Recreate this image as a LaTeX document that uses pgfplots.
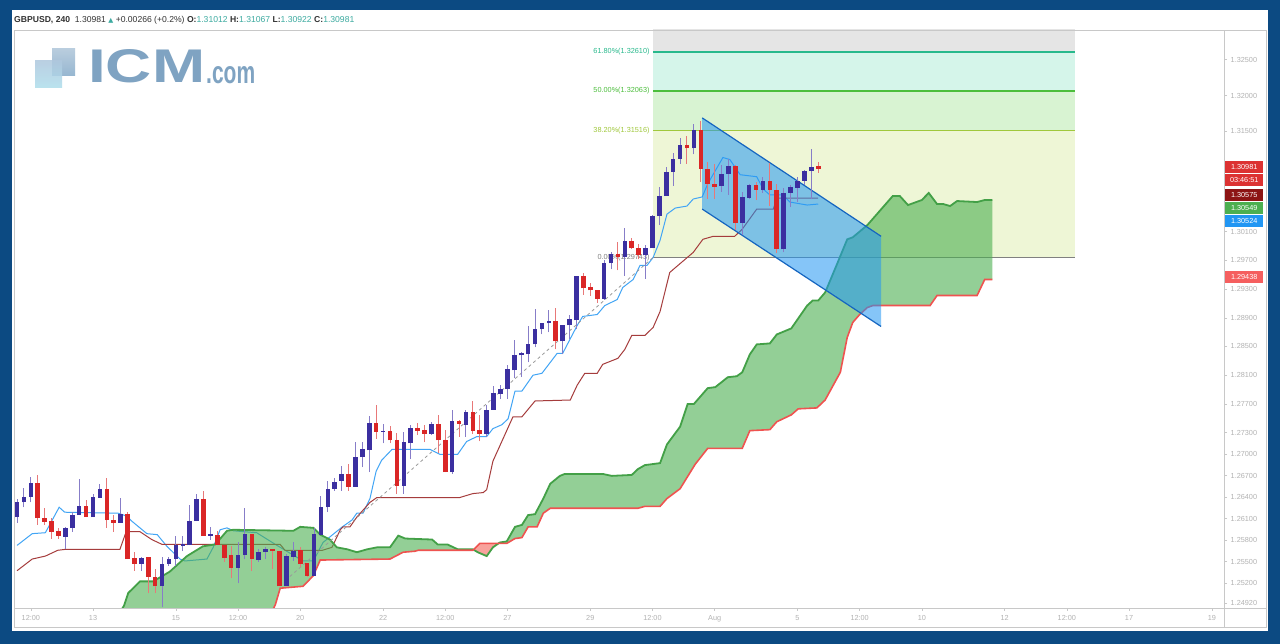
\documentclass[border=0pt]{standalone}
\usepackage{pgfplots}
\pgfplotsset{compat=1.18}
\usepackage{pgfplotstable}
\usepackage{graphicx}
\usepackage{fontspec}
\setmainfont{Liberation Sans}
\newfontfamily\dejavu{DejaVu Sans}

\definecolor{tvblue}{RGB}{12,74,130}
\definecolor{upbody}{RGB}{59,47,160}
\definecolor{upwick}{RGB}{135,125,200}
\definecolor{dnbody}{RGB}{218,38,38}
\definecolor{dnwick}{RGB}{232,120,120}
\definecolor{tenkan}{RGB}{66,165,245}
\definecolor{kijun}{RGB}{165,60,60}
\definecolor{spanA}{RGB}{67,160,71}
\definecolor{spanB}{RGB}{239,83,80}
\definecolor{cloudG}{RGB}{76,175,80}
\definecolor{cloudR}{RGB}{248,162,156}
\definecolor{chan}{RGB}{33,150,243}
\definecolor{chanline}{RGB}{21,101,192}
\definecolor{fibA}{RGB}{238,246,214}
\definecolor{fibB}{RGB}{216,243,210}
\definecolor{fibC}{RGB}{213,245,234}
\definecolor{fibD}{RGB}{229,229,229}
\definecolor{fibL382}{RGB}{160,200,60}
\definecolor{fibL50}{RGB}{76,190,60}
\definecolor{fibL618}{RGB}{40,185,140}
\definecolor{fibL0}{RGB}{128,128,128}
\definecolor{ticktxt}{RGB}{178,178,178}
\definecolor{frame}{RGB}{200,200,200}
\definecolor{valtxt}{RGB}{60,170,160}
\definecolor{hdrtxt}{RGB}{50,50,50}
\definecolor{icm}{RGB}{127,163,194}

\pgfplotstableread{
i o h l c
-11 1.26120 1.26379 1.26038 1.26325
-10 1.26325 1.26530 1.26257 1.26407
-9 1.26407 1.26681 1.26325 1.26599
-4 1.25848 1.25984 1.25671 1.25970
-3 1.25970 1.26188 1.25916 1.26148
-2 1.26148 1.26653 1.26148 1.26270
0 1.26120 1.26448 1.26120 1.26407
1 1.26393 1.26585 1.26393 1.26516
4 1.26038 1.26393 1.26038 1.26161
7 1.25467 1.25562 1.25372 1.25549
10 1.25155 1.25562 1.24860 1.25467
11 1.25467 1.25562 1.25440 1.25535
12 1.25535 1.25861 1.25440 1.25725
13 1.25712 1.25861 1.25644 1.25739
14 1.25725 1.26284 1.25725 1.26065
15 1.26065 1.26448 1.26065 1.26366
17 1.25861 1.25984 1.25807 1.25889
21 1.25413 1.25766 1.25196 1.25589
22 1.25589 1.26243 1.25535 1.25889
24 1.25521 1.25671 1.25494 1.25630
25 1.25630 1.25698 1.25535 1.25671
28 1.25155 1.25603 1.25155 1.25576
29 1.25562 1.25766 1.25508 1.25644
32 1.25304 1.25970 1.25304 1.25889
33 1.25875 1.26421 1.25875 1.26257
34 1.26257 1.26626 1.26188 1.26516
35 1.26516 1.26667 1.26489 1.26612
36 1.26626 1.26832 1.26489 1.26722
38 1.26544 1.27161 1.26544 1.26955
39 1.26955 1.27161 1.26818 1.27065
40 1.27051 1.27533 1.26749 1.27436
42 1.27312 1.27422 1.27147 1.27326
45 1.26557 1.27312 1.26448 1.27161
46 1.27147 1.27409 1.26927 1.27367
49 1.27285 1.27450 1.27271 1.27422
52 1.26749 1.27616 1.26722 1.27464
54 1.27409 1.27616 1.27244 1.27588
57 1.27285 1.27685 1.27244 1.27616
58 1.27616 1.27947 1.27616 1.27850
59 1.27836 1.27960 1.27767 1.27905
60 1.27905 1.28237 1.27767 1.28182
61 1.28168 1.28585 1.28057 1.28376
62 1.28376 1.28418 1.28071 1.28404
63 1.28390 1.28779 1.28279 1.28529
64 1.28529 1.29016 1.28487 1.28738
65 1.28738 1.28821 1.28668 1.28821
66 1.28821 1.29002 1.28696 1.28849
68 1.28571 1.28793 1.28390 1.28793
69 1.28793 1.28946 1.28599 1.28877
70 1.28863 1.29490 1.28738 1.29490
74 1.29169 1.29700 1.29155 1.29658
75 1.29658 1.29812 1.29574 1.29784
77 1.29742 1.30150 1.29490 1.29967
80 1.29770 1.29911 1.29448 1.29868
81 1.29868 1.30332 1.29868 1.30318
82 1.30318 1.30726 1.30192 1.30600
83 1.30600 1.31009 1.30600 1.30938
84 1.30938 1.31193 1.30740 1.31122
85 1.31122 1.31406 1.31051 1.31306
87 1.31264 1.31604 1.31179 1.31519
91 1.30740 1.31037 1.30656 1.30910
92 1.30910 1.31122 1.30614 1.31023
94 1.30220 1.30656 1.30051 1.30586
95 1.30571 1.30769 1.30557 1.30755
97 1.30684 1.30868 1.30642 1.30811
100 1.29854 1.30712 1.29812 1.30642
101 1.30642 1.30755 1.30445 1.30726
102 1.30712 1.30868 1.30515 1.30811
103 1.30811 1.30967 1.30755 1.30953
104 1.30953 1.31250 1.30557 1.31009
}\upcandles

\pgfplotstableread{
i o h l c
-8 1.26599 1.26708 1.26011 1.26107
-7 1.26107 1.26243 1.26011 1.26052
-6 1.26065 1.26107 1.25821 1.25916
-5 1.25929 1.25970 1.25821 1.25861
-1 1.26270 1.26352 1.26120 1.26120
2 1.26516 1.26667 1.25970 1.26079
3 1.26079 1.26148 1.25916 1.26038
5 1.26161 1.26188 1.25535 1.25535
6 1.25549 1.25630 1.25372 1.25467
8 1.25562 1.25562 1.25061 1.25291
9 1.25291 1.25399 1.25061 1.25155
16 1.26366 1.26489 1.25861 1.25861
18 1.25875 1.25929 1.25725 1.25725
19 1.25725 1.25725 1.25494 1.25549
20 1.25589 1.25712 1.25264 1.25413
23 1.25889 1.25889 1.25372 1.25535
26 1.25671 1.25671 1.25399 1.25644
27 1.25644 1.25644 1.25155 1.25155
30 1.25657 1.25698 1.25426 1.25467
31 1.25481 1.25481 1.25291 1.25304
37 1.26722 1.26859 1.26489 1.26544
41 1.27436 1.27685 1.27216 1.27312
43 1.27326 1.27395 1.27147 1.27189
44 1.27202 1.27298 1.26448 1.26557
47 1.27367 1.27436 1.27271 1.27326
48 1.27340 1.27409 1.27161 1.27285
50 1.27422 1.27546 1.27010 1.27189
51 1.27202 1.27340 1.26749 1.26749
53 1.27464 1.27478 1.27244 1.27422
55 1.27588 1.27740 1.27285 1.27326
56 1.27340 1.27546 1.27175 1.27285
67 1.28849 1.29043 1.28460 1.28571
71 1.29490 1.29532 1.29225 1.29309
72 1.29323 1.29379 1.29211 1.29281
73 1.29281 1.29281 1.29113 1.29169
76 1.29784 1.29953 1.29560 1.29742
78 1.29967 1.30009 1.29854 1.29868
79 1.29868 1.29925 1.29714 1.29770
86 1.31306 1.31434 1.31051 1.31264
88 1.31519 1.31646 1.30797 1.30981
89 1.30981 1.31080 1.30557 1.30769
90 1.30769 1.31051 1.30557 1.30726
93 1.31023 1.31037 1.30122 1.30220
96 1.30755 1.30797 1.30543 1.30684
98 1.30811 1.31066 1.30459 1.30684
99 1.30684 1.30769 1.29798 1.29854
105 1.31012 1.31067 1.30922 1.30981
}\dncandles

\pgfplotstableread{
i p
-11.0 1.25725
-8.8 1.25889
-6.9 1.25902
-4.9 1.26257
-4.1 1.26188
3.6 1.26175
4.9 1.26134
5.6 1.26065
7.8 1.25889
9.3 1.25875
10.7 1.25712
12.6 1.25535
13.3 1.25508
16.5 1.25535
17.4 1.25698
18.4 1.25943
19.4 1.25970
20.3 1.25929
23.7 1.25902
26.4 1.25739
30.4 1.25508
31.9 1.25508
33.3 1.25766
34.7 1.25875
36.1 1.25984
37.5 1.26079
38.2 1.26175
39.1 1.26175
40.1 1.26379
41.0 1.26763
41.8 1.26914
43.3 1.27065
48.8 1.27065
50.2 1.26996
52.8 1.26996
54.1 1.27175
55.6 1.27244
57.0 1.27244
57.9 1.27354
59.2 1.27409
60.1 1.27491
61.1 1.27878
62.1 1.27878
63.7 1.28099
65.0 1.28126
67.2 1.28404
68.0 1.28404
70.1 1.28793
70.9 1.28919
73.0 1.28946
74.1 1.29071
75.9 1.29155
76.7 1.29323
78.2 1.29434
79.2 1.29630
80.2 1.29630
81.1 1.29742
82.1 1.29981
83.1 1.30346
84.3 1.30431
86.0 1.30459
86.9 1.30557
88.2 1.30586
89.0 1.30769
91.2 1.31136
92.2 1.31108
93.7 1.30896
96.1 1.30868
97.0 1.30698
98.0 1.30614
99.9 1.30614
100.9 1.30515
103.4 1.30473
105.0 1.30487
}\tenkantab

\pgfplotstableread{
i p
-11.0 1.25372
-8.8 1.25535
-6.9 1.25576
-5.1 1.25657
-3.9 1.25671
3.9 1.25671
4.8 1.25916
6.8 1.25916
8.5 1.25807
10.0 1.25739
27.1 1.25739
27.8 1.25657
33.2 1.25657
34.6 1.25698
35.8 1.25943
36.2 1.25984
37.2 1.25984
38.2 1.26120
40.1 1.26325
41.1 1.26393
53.1 1.26393
55.0 1.26448
56.5 1.26462
57.0 1.26503
57.9 1.26900
60.8 1.27519
62.1 1.27519
64.0 1.27740
69.1 1.27753
70.1 1.27960
71.2 1.28126
73.0 1.28126
73.8 1.28251
76.0 1.28335
77.0 1.28460
78.0 1.28654
79.9 1.28654
81.1 1.28766
82.1 1.28988
83.5 1.29532
84.0 1.29574
86.9 1.29812
88.3 1.29995
89.8 1.30037
92.9 1.30037
94.0 1.30136
96.1 1.30417
98.5 1.30417
99.0 1.30571
105.0 1.30571
}\kijuntab

\pgfplotstableread{
i p
1.7 1.24447
4.5 1.24886
5.1 1.25061
6.8 1.25223
8.7 1.25223
11.1 1.25358
13.6 1.25576
15.9 1.25712
17.7 1.25739
19.4 1.25929
20.3 1.25943
29.0 1.25929
30.0 1.25984
31.9 1.25970
32.9 1.25875
34.3 1.25807
35.3 1.25698
36.8 1.25671
38.2 1.25630
39.7 1.25671
41.1 1.25698
43.0 1.25698
44.2 1.25861
45.2 1.25821
49.1 1.25807
49.9 1.25739
51.3 1.25739
52.8 1.25671
55.0 1.25671
55.7 1.25630
57.0 1.25576
57.9 1.25698
58.9 1.25766
59.9 1.25780
61.1 1.25984
62.1 1.26011
63.0 1.26148
64.0 1.26161
65.2 1.26379
66.2 1.26585
67.6 1.26695
68.3 1.26722
73.8 1.26722
75.1 1.26695
78.0 1.26708
78.9 1.26790
79.9 1.26845
82.1 1.26873
83.1 1.27134
85.0 1.27381
86.1 1.27698
87.0 1.27698
89.0 1.27919
90.1 1.27933
91.9 1.28071
93.2 1.28085
94.0 1.28140
95.1 1.28390
96.1 1.28529
98.0 1.28543
99.0 1.28668
101.1 1.28752
103.4 1.29071
104.2 1.29141
105.0 1.29141
106.0 1.29253
107.7 1.29644
109.2 1.29995
110.0 1.30023
112.1 1.30192
115.8 1.30600
116.8 1.30600
118.0 1.30473
120.0 1.30543
121.0 1.30642
122.2 1.30487
123.1 1.30487
124.1 1.30459
125.1 1.30529
128.0 1.30515
129.1 1.30543
130.2 1.30543
}\spanAtab

\pgfplotstableread{
i p
1.7 1.24000
24.2 1.24447
26.4 1.24899
27.1 1.25128
30.4 1.25155
31.1 1.25223
31.9 1.25304
32.9 1.25521
43.0 1.25535
44.9 1.25630
46.6 1.25644
47.1 1.25657
55.0 1.25657
56.0 1.25753
59.9 1.25753
61.1 1.25821
62.1 1.25834
63.0 1.25984
64.3 1.25984
65.2 1.26175
66.2 1.26243
78.9 1.26243
79.9 1.26270
82.1 1.26270
83.1 1.26379
85.0 1.26516
87.2 1.26859
89.0 1.27079
94.0 1.27079
95.1 1.27326
98.0 1.27340
99.0 1.27450
101.1 1.27546
102.1 1.27630
104.8 1.27643
106.0 1.27753
108.2 1.28140
109.2 1.28627
110.0 1.28835
111.0 1.28946
112.1 1.29043
112.9 1.29071
121.2 1.29071
122.2 1.29211
128.0 1.29211
129.1 1.29434
130.2 1.29434
}\spanBtab

% cloud area: span A forward, then span B backward
\pgfplotstableread{
i p
1.7 1.24447
4.5 1.24886
5.1 1.25061
6.8 1.25223
8.7 1.25223
11.1 1.25358
13.6 1.25576
15.9 1.25712
17.7 1.25739
19.4 1.25929
20.3 1.25943
29.0 1.25929
30.0 1.25984
31.9 1.25970
32.9 1.25875
34.3 1.25807
35.3 1.25698
36.8 1.25671
38.2 1.25630
39.7 1.25671
41.1 1.25698
43.0 1.25698
44.2 1.25861
45.2 1.25821
49.1 1.25807
49.9 1.25739
51.3 1.25739
52.8 1.25671
55.0 1.25671
55.7 1.25630
57.0 1.25576
57.9 1.25698
58.9 1.25766
59.9 1.25780
61.1 1.25984
62.1 1.26011
63.0 1.26148
64.0 1.26161
65.2 1.26379
66.2 1.26585
67.6 1.26695
68.3 1.26722
73.8 1.26722
75.1 1.26695
78.0 1.26708
78.9 1.26790
79.9 1.26845
82.1 1.26873
83.1 1.27134
85.0 1.27381
86.1 1.27698
87.0 1.27698
89.0 1.27919
90.1 1.27933
91.9 1.28071
93.2 1.28085
94.0 1.28140
95.1 1.28390
96.1 1.28529
98.0 1.28543
99.0 1.28668
101.1 1.28752
103.4 1.29071
104.2 1.29141
105.0 1.29141
106.0 1.29253
107.7 1.29644
109.2 1.29995
110.0 1.30023
112.1 1.30192
115.8 1.30600
116.8 1.30600
118.0 1.30473
120.0 1.30543
121.0 1.30642
122.2 1.30487
123.1 1.30487
124.1 1.30459
125.1 1.30529
128.0 1.30515
129.1 1.30543
130.2 1.30543
130.2 1.29434
129.1 1.29434
128.0 1.29211
122.2 1.29211
121.2 1.29071
112.9 1.29071
112.1 1.29043
111.0 1.28946
110.0 1.28835
109.2 1.28627
108.2 1.28140
106.0 1.27753
104.8 1.27643
102.1 1.27630
101.1 1.27546
99.0 1.27450
98.0 1.27340
95.1 1.27326
94.0 1.27079
89.0 1.27079
87.2 1.26859
85.0 1.26516
83.1 1.26379
82.1 1.26270
79.9 1.26270
78.9 1.26243
66.2 1.26243
65.2 1.26175
64.3 1.25984
63.0 1.25984
62.1 1.25834
61.1 1.25821
59.9 1.25753
56.0 1.25753
55.0 1.25657
47.1 1.25657
46.6 1.25644
44.9 1.25630
43.0 1.25535
32.9 1.25521
31.9 1.25304
31.1 1.25223
30.4 1.25155
27.1 1.25128
26.4 1.24899
24.2 1.24447
1.7 1.24000
}\cloudarea

\begin{document}
\begin{tikzpicture}[x=1pt,y=1pt]
\path[use as bounding box] (0,0) rectangle (1280,644);
\fill[tvblue] (0,0) rectangle (1280,644);
\fill[white] (12,13) rectangle (1268,634);

\begin{axis}[
  at={(14pt,36pt)}, anchor=south west,
  width=1210pt, height=578pt, scale only axis,
  xmin=-11.44, xmax=163.75,
  ymin=1.24852, ymax=1.32915,
  axis line style={frame, line width=0.8pt},
  xtick pos=left, ytick pos=right, yticklabel pos=right,
  tick align=outside, major tick length=3pt,
  every tick/.style={frame, line width=0.6pt},
  xtick={-9,0,12,21,30,42,51,60,72,81,90,102,111,120,132,141,150,162},
  xticklabels={12:00,13,15,12:00,20,22,12:00,27,29,12:00,Aug,5,12:00,10,12,12:00,17,19},
  ytick={1.2492,1.252,1.255,1.258,1.261,1.264,1.267,1.27,1.273,1.277,1.281,1.285,1.289,1.293,1.297,1.301,1.315,1.32,1.325},
  yticklabels={1.24920,1.25200,1.25500,1.25800,1.26100,1.26400,1.26700,1.27000,1.27300,1.27700,1.28100,1.28500,1.28900,1.29300,1.29700,1.30100,1.31500,1.32000,1.32500},
  ticklabel style={font=\fontsize{7.3}{9}\selectfont, text=ticktxt},
  yticklabel style={anchor=west, inner sep=0pt, xshift=3.5pt},
  xticklabel style={anchor=base, inner sep=0pt, yshift=-10pt},
  scaled y ticks=false,
]
% Fibonacci bands
\addplot[fill=fibA, draw=none] coordinates {(81.1,1.29743) (142.2,1.29743) (142.2,1.31516) (81.1,1.31516)} --cycle;
\addplot[fill=fibB, draw=none] coordinates {(81.1,1.31516) (142.2,1.31516) (142.2,1.32063) (81.1,1.32063)} --cycle;
\addplot[fill=fibC, draw=none] coordinates {(81.1,1.32063) (142.2,1.32063) (142.2,1.32610) (81.1,1.32610)} --cycle;
\addplot[fill=fibD, draw=none] coordinates {(81.1,1.32610) (142.2,1.32610) (142.2,1.33200) (81.1,1.33200)} --cycle;
\addplot[fibL0, line width=1.6pt] coordinates {(81.1,1.29743) (142.2,1.29743)};
\addplot[fibL382, line width=1.4pt] coordinates {(81.1,1.31516) (142.2,1.31516)};
\addplot[fibL50, line width=1.4pt] coordinates {(81.1,1.32063) (142.2,1.32063)};
\addplot[fibL618, line width=1.4pt] coordinates {(81.1,1.32610) (142.2,1.32610)};
\node[anchor=east, inner sep=0pt, text=fibL618, font=\fontsize{7.3}{9}\selectfont] at (axis cs:80.6,1.32610) {61.80\%(1.32610)};
\node[anchor=east, inner sep=0pt, text=fibL50, font=\fontsize{7.3}{9}\selectfont] at (axis cs:80.6,1.32063) {50.00\%(1.32063)};
\node[anchor=east, inner sep=0pt, text=fibL382, font=\fontsize{7.3}{9}\selectfont] at (axis cs:80.6,1.31516) {38.20\%(1.31516)};
\node[anchor=east, inner sep=0pt, text=fibL0, font=\fontsize{7.3}{9}\selectfont] at (axis cs:80.6,1.29743) {0.00\%(1.29743)};
% Tenkan / Kijun
\addplot[tenkan, line width=1pt] table[x=i,y=p] {\tenkantab};
\addplot[kijun, line width=1pt] table[x=i,y=p] {\kijuntab};
% Cloud
\addplot[fill=cloudG, fill opacity=0.6, draw=none] table[x=i,y=p] {\cloudarea} --cycle;
\addplot[fill=cloudR, draw=none] coordinates {(55.09,1.25666) (55.7,1.25630) (57.0,1.25576) (57.9,1.25698) (58.71,1.25753) (56.0,1.25753)} --cycle;
\addplot[spanA, line width=1.8pt] table[x=i,y=p] {\spanAtab};
\addplot[spanB, line width=1.6pt] table[x=i,y=p] {\spanBtab};
% Fib trend line
\addplot[fibL0!80, line width=0.8pt, dash pattern=on 3pt off 3pt] coordinates {(28.5,1.25291) (81.1,1.29743)};
% Channel
\addplot[fill=chan, fill opacity=0.55, draw=none] coordinates {(88.2,1.31689) (114.1,1.30037) (114.1,1.28779) (88.2,1.30417)} --cycle;
\addplot[chanline, line width=1.2pt] coordinates {(88.2,1.31689) (114.1,1.30037)};
\addplot[chanline, line width=1.2pt] coordinates {(88.2,1.30417) (114.1,1.28779)};
% Candles: wicks
\addplot[draw=none, mark=none, error bars/.cd, y dir=plus, y explicit, error mark=none,
  error bar style={draw=upwick, line width=1pt}] table[x=i, y=l, y error expr=\thisrow{h}-\thisrow{l}] {\upcandles};
\addplot[draw=none, mark=none, error bars/.cd, y dir=plus, y explicit, error mark=none,
  error bar style={draw=dnwick, line width=1pt}] table[x=i, y=l, y error expr=\thisrow{h}-\thisrow{l}] {\dncandles};
% Candles: bodies
\addplot[draw=none, mark=none, error bars/.cd, y dir=plus, y explicit, error mark=none,
  error bar style={draw=upbody, line width=4.6pt}] table[x=i, y=o, y error expr=\thisrow{c}-\thisrow{o}] {\upcandles};
\addplot[draw=none, mark=none, error bars/.cd, y dir=plus, y explicit, error mark=none,
  error bar style={draw=dnbody, line width=4.6pt}] table[x=i, y=c, y error expr=\thisrow{o}-\thisrow{c}] {\dncandles};
\end{axis}

% outer frame pieces
\draw[frame, line width=0.8pt] (14,17) rectangle (1266,614);
\draw[frame, line width=0.8pt] (1224,17) -- (1224,614);
\draw[frame, line width=0.8pt] (14,36) -- (1266,36);

% header
\node[anchor=base west, inner sep=0pt, font=\fontsize{8.6}{10}\selectfont, text=hdrtxt] at (14,621)
 {\textbf{GBPUSD, 240}\ \ 1.30981 {\dejavu\color{valtxt}\fontsize{6.5}{8}\selectfont ▲} +0.00266 (+0.2\%) \textbf{O:}\textcolor{valtxt}{1.31012} \textbf{H:}\textcolor{valtxt}{1.31067} \textbf{L:}\textcolor{valtxt}{1.30922} \textbf{C:}\textcolor{valtxt}{1.30981}};

% logo
\shade[top color={rgb,255:red,185;green,205;blue,222}, bottom color={rgb,255:red,150;green,182;blue,208}] (52,568) rectangle (75,595);
\shade[top color={rgb,255:red,175;green,200;blue,222}, bottom color={rgb,255:red,175;green,222;blue,236}, opacity=0.85] (35,556) rectangle (62,583);
\node[anchor=south west, inner sep=0pt, text=icm] at (88,561) {\resizebox{117pt}{33pt}{\bfseries ICM}};
\node[anchor=south west, inner sep=0pt, text=icm] at (206,560) {\resizebox{49pt}{17pt}{\bfseries .com}};

% price labels
\tikzset{plab/.style={anchor=west, inner sep=0pt, minimum width=38pt, minimum height=12pt, text=white, font=\fontsize{7.3}{9}\selectfont}}
\node[plab, fill={rgb,255:red,220;green,50;blue,50}] at (1225,477) {1.30981};
\node[plab, fill={rgb,255:red,220;green,50;blue,50}] at (1225,464) {03:46:51};
\node[plab, fill={rgb,255:red,140;green,20;blue,20}] at (1225,449) {1.30575};
\node[plab, fill={rgb,255:red,76;green,175;blue,80}] at (1225,436) {1.30549};
\node[plab, fill={rgb,255:red,33;green,150;blue,243}] at (1225,423) {1.30524};
\node[plab, fill={rgb,255:red,245;green,95;blue,95}] at (1225,367) {1.29438};
\end{tikzpicture}
\end{document}
